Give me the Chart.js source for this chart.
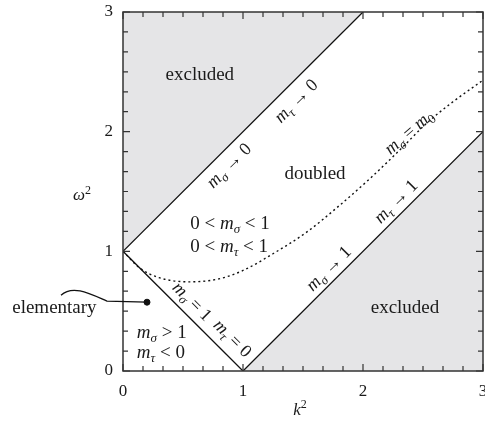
<!DOCTYPE html>
<html>
<head>
<meta charset="utf-8">
<script src="https://cdn.jsdelivr.net/npm/chart.js@4/dist/chart.umd.min.js"></script>
<style>
  html, body { margin: 0; padding: 0; background: #fff; }
</style>
</head>
<body>
<canvas id="c" width="485" height="423"></canvas>
<script>
// =====================
// DATA
// =====================
// boundary m_sigma -> 0 / m_tau -> 0 (upper excluded region)
const upperK = [0, 2];
const upperW = [1, 3];
// boundary m_sigma -> 1 / m_tau -> 1 (lower excluded region)
const lowerK = [1, 3];
const lowerW = [0, 2];
// m_sigma = 1, m_tau = 0
const diagK = [0, 1];
const diagW = [1, 0];
// m_sigma = m_0 (dotted)
const m0K = [0, 0.14, 0.3, 0.56, 0.8, 1.0, 1.25, 1.53, 1.8, 2.06, 2.3, 2.53, 2.75, 3.0];
const m0W = [1, 0.86, 0.78, 0.745, 0.77, 0.84, 0.98, 1.16, 1.38, 1.61, 1.84, 2.07, 2.25, 2.43];
// "elementary" marker
const elemK = [0.2];
const elemW = [0.575];
// labelled ticks
const axisTicks = [0, 1, 2, 3];

const FONT = '"Liberation Serif", "Times New Roman", serif';
const GREY = "#e5e5e7";

function pts(xs, ys) {
  return xs.map((x, i) => ({ x: x, y: ys[i] }));
}

// text annotations (data coords), parts: [text, kind]
// kind: r = roman, i = italic, s = subscript, p = superscript
const notes = [
  { k: 0.64, w: 2.48, parts: [["excluded", "r"]] },
  { k: 2.35, w: 0.535, parts: [["excluded", "r"]] },
  { k: 1.6, w: 1.66, parts: [["doubled", "r"]] },
  { k: 0.56, w: 1.24, align: "left", parts: [["0 < ", "r"], ["m", "i"], ["σ", "s"], [" < 1", "r"]] },
  { k: 0.56, w: 1.05, align: "left", parts: [["0 < ", "r"], ["m", "i"], ["τ", "s"], [" < 1", "r"]] },
  { k: 0.115, w: 0.33, align: "left", parts: [["m", "i"], ["σ", "s"], [" > 1", "r"]] },
  { k: 0.115, w: 0.16, align: "left", parts: [["m", "i"], ["τ", "s"], [" < 0", "r"]] },
  { k: -0.22, w: 0.535, align: "right", parts: [["elementary", "r"]] },
  { k: 0.88, w: 1.72, rot: -45, size: 18, parts: [["m", "i"], ["σ", "s"], [" → 0", "r"]] },
  { k: 1.44, w: 2.26, rot: -45, size: 18, parts: [["m", "i"], ["τ", "s"], [" → 0", "r"]] },
  { k: 2.38, w: 2.0, rot: -41, size: 18, parts: [["m", "i"], ["σ", "s"], [" = ", "r"], ["m", "i"], ["0", "s0"]] },
  { k: 1.71, w: 0.86, rot: -45, size: 18, parts: [["m", "i"], ["σ", "s"], [" → 1", "r"]] },
  { k: 2.27, w: 1.42, rot: -45, size: 18, parts: [["m", "i"], ["τ", "s"], [" → 1", "r"]] },
  { k: 0.58, w: 0.585, rot: 45, size: 18, parts: [["m", "i"], ["σ", "s"], [" = 1", "r"]] },
  { k: 0.915, w: 0.275, rot: 45, size: 18, parts: [["m", "i"], ["τ", "s"], [" = 0", "r"]] }
];

// =====================
// DRAW HELPERS
// =====================
function fontFor(kind, size) {
  if (kind === "r") return size + "px " + FONT;
  if (kind === "i") return "italic " + size + "px " + FONT;
  if (kind === "s") return "italic " + Math.round(size * 0.7) + "px " + FONT;
  return Math.round(size * 0.7) + "px " + FONT; // upright sub / superscript
}

function richText(ctx, parts, x, y, opt) {
  const size = opt.size || 19;
  let total = 0;
  parts.forEach(p => {
    ctx.font = fontFor(p[1], size);
    total += ctx.measureText(p[0]).width;
  });
  ctx.save();
  ctx.translate(x, y);
  ctx.rotate(((opt.rot || 0) * Math.PI) / 180);
  ctx.textBaseline = "alphabetic";
  ctx.fillStyle = "#1a1a1a";
  let cx = opt.align === "left" ? 0 : opt.align === "right" ? -total : -total / 2;
  const base = size * 0.33;
  parts.forEach(p => {
    ctx.font = fontFor(p[1], size);
    let dy = 0;
    if (p[1] === "s" || p[1] === "s0") dy = size * 0.22;
    if (p[1] === "p") dy = -size * 0.38;
    ctx.fillText(p[0], cx, base + dy);
    cx += ctx.measureText(p[0]).width;
  });
  ctx.restore();
}

const decor = {
  id: "decor",
  afterDraw(chart) {
    const ctx = chart.ctx;
    const a = chart.chartArea;
    const xs = chart.scales.x;
    const ys = chart.scales.y;
    const isMajor = v => axisTicks.some(t => Math.abs(t - v) < 1e-6);

    // inward ticks on all four sides
    ctx.save();
    ctx.strokeStyle = "#333";
    ctx.lineWidth = 1.2;
    ctx.beginPath();
    xs.ticks.forEach(t => {
      const px = xs.getPixelForValue(t.value);
      const len = isMajor(t.value) ? 7 : 5;
      ctx.moveTo(px, a.bottom); ctx.lineTo(px, a.bottom - len);
      ctx.moveTo(px, a.top); ctx.lineTo(px, a.top + len);
    });
    ys.ticks.forEach(t => {
      const py = ys.getPixelForValue(t.value);
      const len = isMajor(t.value) ? 7 : 5;
      ctx.moveTo(a.left, py); ctx.lineTo(a.left + len, py);
      ctx.moveTo(a.right, py); ctx.lineTo(a.right - len, py);
    });
    ctx.stroke();

    // frame
    ctx.lineWidth = 1.5;
    ctx.strokeRect(a.left, a.top, a.right - a.left, a.bottom - a.top);
    ctx.restore();

    // tick labels
    ctx.save();
    ctx.fillStyle = "#1a1a1a";
    ctx.font = "17px " + FONT;
    ctx.textBaseline = "middle";
    ctx.textAlign = "center";
    axisTicks.forEach(v => {
      ctx.fillText(String(v), xs.getPixelForValue(v), a.bottom + 21);
    });
    ctx.textAlign = "right";
    axisTicks.forEach(v => {
      ctx.fillText(String(v), a.left - 10, ys.getPixelForValue(v));
    });
    ctx.restore();

    // axis titles
    richText(ctx, [["k", "i"], ["2", "p"]], (a.left + a.right) / 2 - 3, a.bottom + 38, { size: 17 });
    richText(ctx, [["ω", "i"], ["2", "p"]], a.left - 41, (a.top + a.bottom) / 2 + 3, { size: 17 });

    // pointer from "elementary" to its marker
    const ex = xs.getPixelForValue(elemK[0]);
    const ey = ys.getPixelForValue(elemW[0]);
    ctx.save();
    ctx.strokeStyle = "#111";
    ctx.lineWidth = 1.3;
    ctx.beginPath();
    ctx.moveTo(ex - 86, ey - 7);
    ctx.bezierCurveTo(ex - 74, ey - 18, ex - 56, ey - 8, ex - 40, ey - 1);
    ctx.lineTo(ex, ey);
    ctx.stroke();
    ctx.restore();

    // annotations
    notes.forEach(n => {
      richText(ctx, n.parts, xs.getPixelForValue(n.k), ys.getPixelForValue(n.w), n);
    });
  }
};

// =====================
// CHART
// =====================
const sixths = () => Array.from({ length: 19 }, (_, i) => ({ value: i / 6 }));

new Chart(document.getElementById("c"), {
  type: "scatter",
  data: {
    datasets: [
      {
        data: pts(upperK, upperW),
        showLine: true,
        fill: "end",
        backgroundColor: GREY,
        borderColor: "#111",
        borderWidth: 1.3,
        pointRadius: 0
      },
      {
        data: pts(lowerK, lowerW),
        showLine: true,
        fill: "start",
        backgroundColor: GREY,
        borderColor: "#111",
        borderWidth: 1.3,
        pointRadius: 0
      },
      {
        data: pts(diagK, diagW),
        showLine: true,
        fill: false,
        borderColor: "#111",
        borderWidth: 1.3,
        pointRadius: 0
      },
      {
        data: pts(m0K, m0W),
        showLine: true,
        fill: false,
        cubicInterpolationMode: "monotone",
        borderColor: "#111",
        borderWidth: 1.4,
        borderDash: [2, 3],
        pointRadius: 0
      },
      {
        data: pts(elemK, elemW),
        showLine: false,
        pointRadius: 3,
        backgroundColor: "#111",
        borderColor: "#111"
      }
    ]
  },
  options: {
    responsive: false,
    animation: false,
    layout: { autoPadding: false, padding: { top: 12, right: 2, left: 0, bottom: 0 } },
    plugins: { legend: { display: false }, tooltip: { enabled: false } },
    scales: {
      x: {
        type: "linear", min: 0, max: 3,
        ticks: { display: false },
        grid: { display: false },
        border: { display: false },
        afterBuildTicks: s => { s.ticks = sixths(); },
        afterFit: s => { s.height = 52; }
      },
      y: {
        type: "linear", min: 0, max: 3,
        ticks: { display: false },
        grid: { display: false },
        border: { display: false },
        afterBuildTicks: s => { s.ticks = sixths(); },
        afterFit: s => { s.width = 123; }
      }
    }
  },
  plugins: [decor]
});
</script>
</body>
</html>
